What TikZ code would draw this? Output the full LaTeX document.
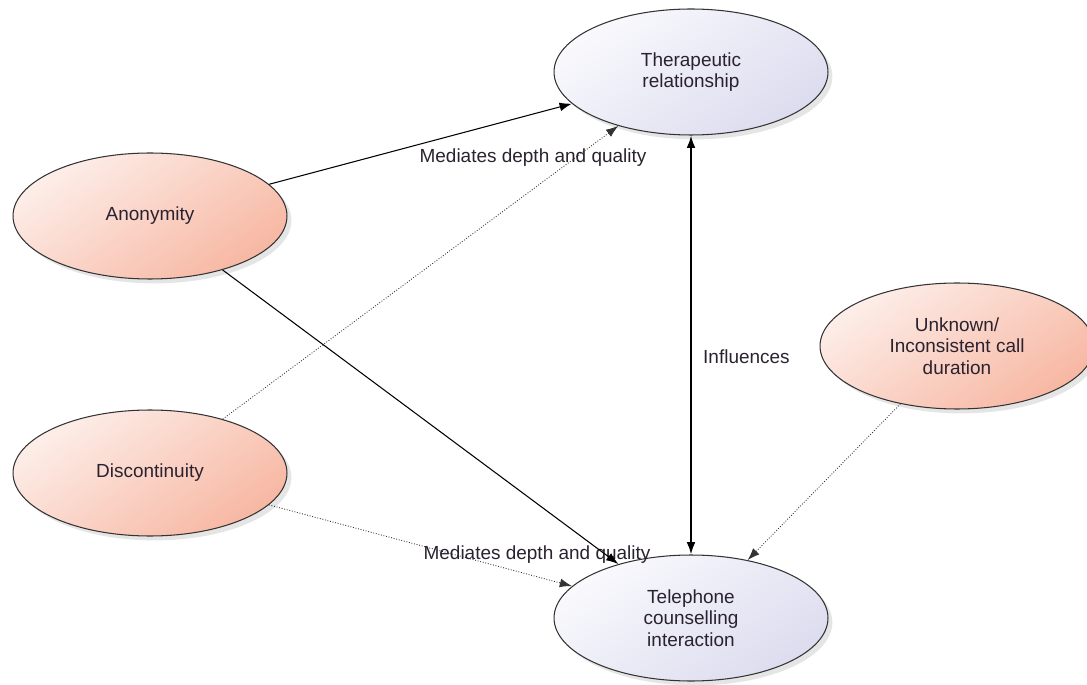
\documentclass[tikz,border=0pt]{standalone}
\usepackage{fontspec}
\setmainfont{Liberation Sans}
\usetikzlibrary{positioning, arrows.meta, shapes.geometric, shadows}

\definecolor{peachlight}{HTML}{FDEEE9}
\definecolor{peachdark}{HTML}{F7B7A2}
\definecolor{lilaclight}{HTML}{F9F9FD}
\definecolor{lilacdark}{HTML}{DCDCEF}
\definecolor{inkcol}{HTML}{2B2230}

\begin{document}
\begin{tikzpicture}[
    x=0.02cm, y=-0.02cm,
    font=\fontsize{10.8}{12.2}\selectfont,
    bubble/.style={
        ellipse,
        draw=black!80,
        line width=0.6pt,
        align=center,
        text=inkcol,
        minimum width=5.48cm,
        minimum height=2.52cm,
        drop shadow={shadow xshift=2.5pt, shadow yshift=-2.5pt, opacity=0.1, fill=black}
    },
    factor/.style={
        bubble,
        top color=peachlight,
        bottom color=peachdark,
        shading angle=35
    },
    outcome/.style={
        bubble,
        top color=lilaclight,
        bottom color=lilacdark,
        shading angle=35
    },
    arrow/.style={
        -{Latex[length=7pt,width=5pt]},
        line width=0.6pt
    },
    weak/.style={
        -{Latex[length=7pt,width=5pt]},
        densely dotted,
        line width=0.5pt,
        draw=black!80
    },
    note/.style={
        text=inkcol
    }
]

\useasboundingbox (0,0) rectangle (1087,685);

\node[outcome] (therapy) at (691,72) {Therapeutic\\relationship};

\node[factor] (anon) at (150,216) {Anonymity};

\node[factor] (discont) at (150,473) {Discontinuity};

\node[factor] (duration) at (957,346)
    {Unknown/\\Inconsistent call\\duration};

\node[outcome] (phone) at (691,618)
    {Telephone\\counselling\\interaction};

\node[note] (medtop) at (533,158) {Mediates depth and quality};
\node[note] (medbot) at (537,555) {Mediates depth and quality};
\node[note, anchor=west] (infl) at (697,357) {Influences};

\draw[arrow] (anon) -- (therapy);
\draw[weak] (discont) -- (therapy);
\draw[arrow] (anon) -- (phone);
\draw[weak] (discont) -- (phone);
\draw[weak] (duration) -- (phone);
\draw[arrow, line width=1.1pt, {Latex[length=7pt,width=5pt]}-{Latex[length=7pt,width=5pt]}]
    (therapy) -- (phone);

\end{tikzpicture}
\end{document}
